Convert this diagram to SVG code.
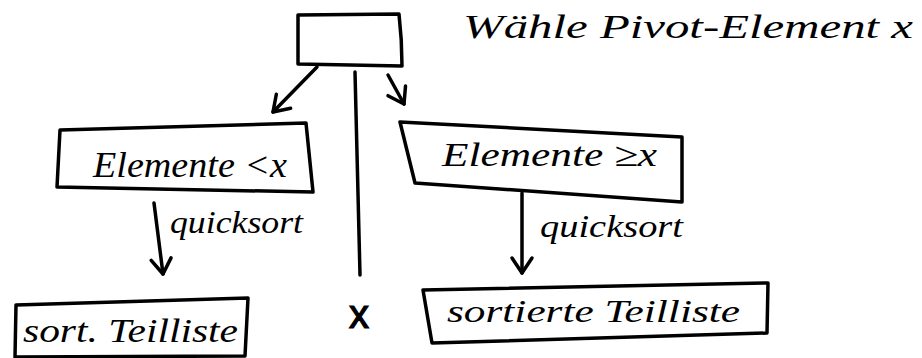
<svg xmlns="http://www.w3.org/2000/svg" width="922" height="358" viewBox="0 0 922 358">
  <style>
    .box { fill: none; stroke: #000; stroke-width: 3.5; stroke-linejoin: round; stroke-linecap: round; }
    .edge { fill: none; stroke: #000; stroke-width: 3.5; stroke-linecap: round; }
    .hand { font-family: "Liberation Serif", "DejaVu Serif", serif; font-style: italic; fill: #000; }
    .mark { font-family: "Liberation Sans", "DejaVu Sans", sans-serif; fill: #000; stroke: #000; stroke-width: 1.2; }
  </style>
  <defs>
    <marker id="chevron" viewBox="-18 -14 22 28" markerWidth="22" markerHeight="28" refX="0" refY="0" markerUnits="userSpaceOnUse" orient="auto" overflow="visible">
      <path d="M -15 -10 L 0 0 L -15 10" fill="none" stroke="#000" stroke-width="3.5" stroke-linecap="round" stroke-linejoin="round"/>
    </marker>
  </defs>
  <rect width="922" height="358" fill="#fff"/>

  <!-- pivot selection -->
  <g id="pivot">
    <path class="box" d="M298 15 L399 14 Q402 40 402 66 L298 64 Z"/>
  </g>
  <g id="caption">
    <text class="hand" x="463" y="38" font-size="34" textLength="450" lengthAdjust="spacingAndGlyphs">Wähle Pivot-Element x</text>
  </g>

  <!-- partitions -->
  <g id="smaller">
    <path class="box" d="M60 130 L306 123 L313 192 L57 187 Z"/>
    <text class="hand" x="93" y="177" font-size="35" textLength="194" lengthAdjust="spacingAndGlyphs">Elemente &lt;x</text>
  </g>
  <g id="greater">
    <path class="box" d="M400 122 L682 137 L682 202 L415 183 Z"/>
    <text class="hand" x="442" y="166" font-size="34" textLength="215" lengthAdjust="spacingAndGlyphs">Elemente ≥x</text>
  </g>

  <!-- results -->
  <g id="sortedLeft">
    <path class="box" d="M16 305 L248 298 L245 356 L15 357 Z"/>
    <text class="hand" x="23" y="342" font-size="34" textLength="215" lengthAdjust="spacingAndGlyphs">sort. Teilliste</text>
  </g>
  <g id="pivotResult">
    <text class="mark" x="359" y="328" font-size="40" text-anchor="middle">x</text>
  </g>
  <g id="sortedRight">
    <path class="box" d="M423 290 L768 283 L767 333 L432 343 Z"/>
    <text class="hand" x="447" y="322" font-size="32" textLength="293" lengthAdjust="spacingAndGlyphs">sortierte Teilliste</text>
  </g>

  <!-- connectors -->
  <g id="connectors">
    <line class="edge" x1="317" y1="67" x2="273" y2="112" marker-end="url(#chevron)"/>
    <line class="edge" x1="388" y1="75" x2="404" y2="104" marker-end="url(#chevron)"/>
    <line class="edge" x1="355" y1="72" x2="360" y2="275"/>
    <line class="edge" x1="154" y1="203" x2="163" y2="274" marker-end="url(#chevron)"/>
    <line class="edge" x1="522" y1="193" x2="522" y2="273" marker-end="url(#chevron)"/>
    <text class="hand" x="170" y="233" font-size="32" textLength="133" lengthAdjust="spacingAndGlyphs">quicksort</text>
    <text class="hand" x="540" y="237" font-size="32" textLength="143" lengthAdjust="spacingAndGlyphs">quicksort</text>
  </g>
</svg>
